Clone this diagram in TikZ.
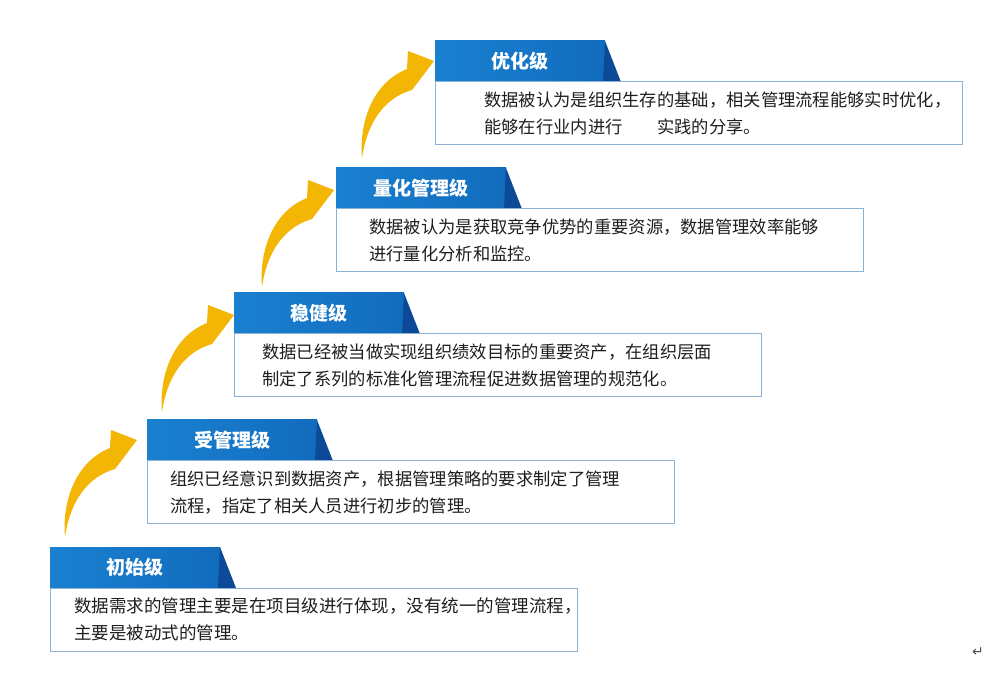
\documentclass[tikz,border=0pt]{standalone}
\usepackage{fontspec}
\newfontfamily\cjk{Noto Sans CJK SC}
\newfontfamily\symfont{DejaVu Sans}
\definecolor{tabblue}{RGB}{26,128,208}
\definecolor{tabblueR}{RGB}{18,108,190}
\definecolor{tabdark}{RGB}{12,74,152}
\definecolor{boxline}{RGB}{140,178,214}
\definecolor{gold}{RGB}{244,182,4}
\definecolor{txt}{RGB}{30,30,30}
\tikzset{
  boxstyle/.style={draw=boxline, line width=1pt, fill=white, minimum width=527pt, minimum height=63pt, anchor=north west, inner sep=0pt, outer sep=0pt},
  titlestyle/.style={text=white, font=\cjk\bfseries\fontsize{19}{19}\selectfont, anchor=center, inner sep=0pt},
  bodystyle/.style={text=txt, font=\cjk\fontsize{17.3}{17.3}\selectfont, anchor=base west, inner sep=0pt},
  goldarrow/.pic={\fill[gold] (0,0) .. controls (-3,-35) and (10,-75) .. (45,-89) -- (46,-107) -- (72,-97) -- (50,-68) .. controls (22,-60) and (5,-35) .. (0,0) -- cycle;}
}
\newcommand\leveltab[4]{% #1 name, #2 L, #3 T, #4 title
  \fill[left color=tabblue, right color=tabblueR] (#2,#3) rectangle ({#2+170},{#3+41});
  \fill[tabdark] ({#2+170},#3) -- ({#2+186},{#3+41}) -- ({#2+168},{#3+41}) -- cycle;
  \node[titlestyle] (t#1) at ({#2+85},{#3+20.5}) {#4};
  \node[boxstyle] (b#1) at (#2,{#3+41}) {};
}
\begin{document}
\begin{tikzpicture}[x=1pt,y=-1pt]
\useasboundingbox (0,0) rectangle (1002,684);
\fill[white] (0,0) rectangle (1002,684);

% arrows
\pic at (65,537) {goldarrow};
\pic at (162,412) {goldarrow};
\pic at (262,287) {goldarrow};
\pic at (362,158) {goldarrow};

% levels
\leveltab{1}{50}{547}{初始级}
\node[bodystyle, font=\cjk\fontsize{17.5}{17.5}\selectfont] (x1a) at (74,{547+41+24.5}) {数据需求的管理主要是在项目级进行体现，没有统一的管理流程，};
\node[bodystyle, font=\cjk\fontsize{17.5}{17.5}\selectfont] (x1b) at (74,{547+41+51.5}) {主要是被动式的管理。};

\leveltab{2}{147}{420}{受管理级}
\node[bodystyle] (x2a) at (170,{420+41+24.5}) {组织已经意识到数据资产，根据管理策略的要求制定了管理};
\node[bodystyle] (x2b) at (170,{420+41+51.5}) {流程，指定了相关人员进行初步的管理。};

\leveltab{3}{234}{293}{稳健级}
\node[bodystyle] (x3a) at (262,{293+41+24.5}) {数据已经被当做实现组织绩效目标的重要资产，在组织层面};
\node[bodystyle] (x3b) at (262,{293+41+51.5}) {制定了系列的标准化管理流程促进数据管理的规范化。};

\leveltab{4}{336}{168}{量化管理级}
\node[bodystyle] (x4a) at (369,{168+41+24.5}) {数据被认为是获取竞争优势的重要资源，数据管理效率能够};
\node[bodystyle] (x4b) at (369,{168+41+51.5}) {进行量化分析和监控。};

\leveltab{5}{435}{41}{优化级}
\node[bodystyle] (x5a) at (484,{41+41+24.5}) {数据被认为是组织生存的基础，相关管理流程能够实时优化，};
\node[bodystyle] (x5b) at (484,{41+41+51.5}) {能够在行业内进行\hspace{2em}实践的分享。};

\node[text=black!70, font=\symfont\fontsize{14}{14}\selectfont, inner sep=0pt] (ret) at (978,652) {↵};
\end{tikzpicture}
\end{document}
